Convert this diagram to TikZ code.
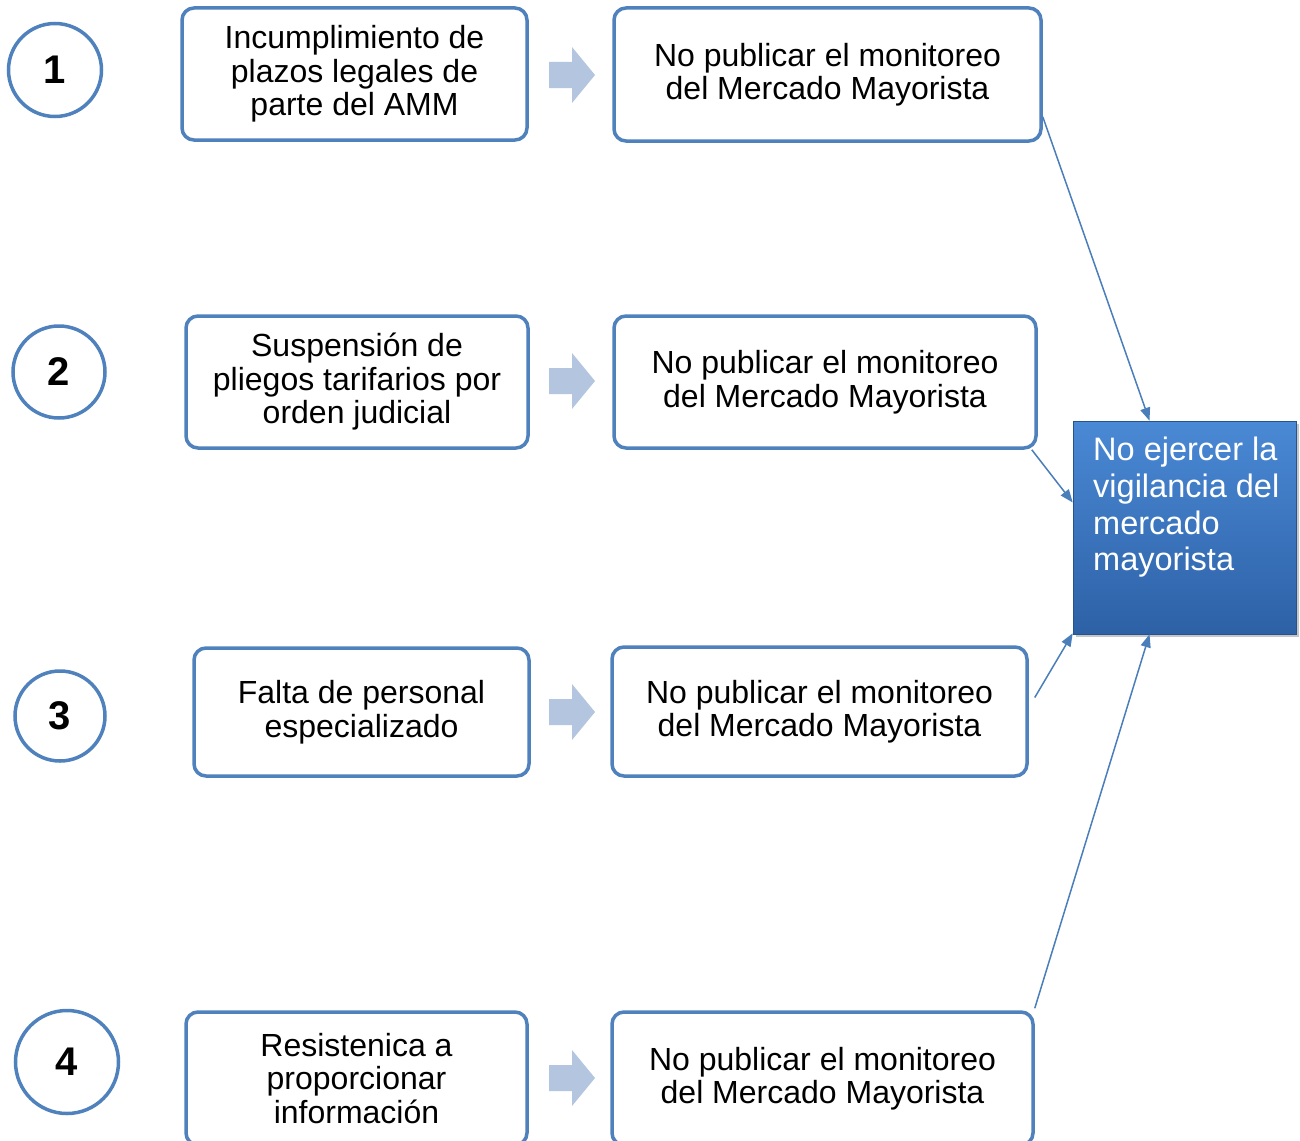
\documentclass[tikz,border=0pt]{standalone}
\usepackage{fontspec}
\setmainfont{Liberation Sans}
\usetikzlibrary{arrows.meta,shadows}
\definecolor{bordblue}{HTML}{4F81BD}
\definecolor{linkblue}{HTML}{4A7EBB}
\definecolor{arrowfill}{HTML}{B3C5DF}
\definecolor{restop}{HTML}{4A89D5}
\definecolor{resbot}{HTML}{2D61A6}
\tikzset{
  numcirc/.style={circle, draw=bordblue, line width=3.5pt, inner sep=0pt, font=\fontsize{40}{40}\selectfont\bfseries},
  causebox/.style={draw=bordblue, line width=3.5pt, rounded corners=12pt, fill=white, align=center, inner sep=0pt, font=\fontsize{32}{33.5}\selectfont},
  flowarrow/.style={fill=arrowfill, draw=none},
  link/.style={draw=linkblue, line width=1.5pt, -{Triangle[length=13pt,width=10pt]}},
}
\newcommand{\blockarrow}[1]{%
  \fill[flowarrow] ([shift={(-23,-13)}]#1) -- ([shift={(0,-13)}]#1) -- ([shift={(0,-28)}]#1)
     -- ([shift={(23,0)}]#1) -- ([shift={(0,28)}]#1) -- ([shift={(0,13)}]#1) -- ([shift={(-23,13)}]#1) -- cycle;}
\begin{document}
\begin{tikzpicture}[x=1pt,y=-1pt]
\useasboundingbox (0,0) rectangle (1300,1140);
% numbered circles
\node[numcirc, minimum size=93pt] (c1) at (55,70) {1};
\node[numcirc, minimum size=92pt] (c2) at (59,372) {2};
\node[numcirc, minimum size=90pt] (c3) at (60,716) {3};
\node[numcirc, minimum size=103pt] (c4) at (67,1062) {4};
% cause boxes
\node[causebox, minimum width=345pt, minimum height=132pt] (l1) at (354.5,74) {Incumplimiento de\\plazos legales de\\parte del AMM};
\node[causebox, minimum width=342pt, minimum height=132pt] (l2) at (357,382) {Suspensión de\\pliegos tarifarios por\\orden judicial};
\node[causebox, minimum width=335pt, minimum height=128pt] (l3) at (361.5,712) {Falta de personal\\especializado};
\node[causebox, minimum width=341pt, minimum height=133pt] (l4) at (356.5,1078.5) {Resistenica a\\proporcionar\\información};
% effect boxes
\node[causebox, minimum width=427pt, minimum height=133pt] (m1) at (827.5,74.5) {No publicar el monitoreo\\del Mercado Mayorista};
\node[causebox, minimum width=422pt, minimum height=132pt] (m2) at (825,382) {No publicar el monitoreo\\del Mercado Mayorista};
\node[causebox, minimum width=415pt, minimum height=129pt] (m3) at (819.5,711.5) {No publicar el monitoreo\\del Mercado Mayorista};
\node[causebox, minimum width=421pt, minimum height=133pt] (m4) at (822.5,1078.5) {No publicar el monitoreo\\del Mercado Mayorista};
% block arrows
\coordinate (a1) at (572,75);
\coordinate (a2) at (572,381);
\coordinate (a3) at (572,712);
\coordinate (a4) at (572,1078);
\blockarrow{a1}\blockarrow{a2}\blockarrow{a3}\blockarrow{a4}
% result box
\node[minimum width=223pt, minimum height=213pt, inner sep=0pt, top color=restop, bottom color=resbot, draw=resbot!85!black, line width=0.6pt,
      drop shadow={opacity=0.45, shadow xshift=3pt, shadow yshift=-3pt}] (res) at (1184.5,527.5) {};
\node[anchor=north west, align=left, text=white, inner sep=0pt, font=\fontsize{32.5}{36.7}\selectfont] (restext) at (1093,437) {No ejercer la\\vigilancia del\\mercado\\mayorista};
% connectors
\draw[link] ([yshift=26pt]m1.south east) -- ([xshift=-35pt]res.north);
\draw[link] ([xshift=-6pt]m2.south east) -- ([yshift=25pt]res.west);
\draw[link] ([xshift=6pt,yshift=14pt]m3.east) -- ([yshift=1pt]res.south west);
\draw[link] ([yshift=2pt]m4.north east) -- ([xshift=-35pt]res.south);
\end{tikzpicture}
\end{document}
